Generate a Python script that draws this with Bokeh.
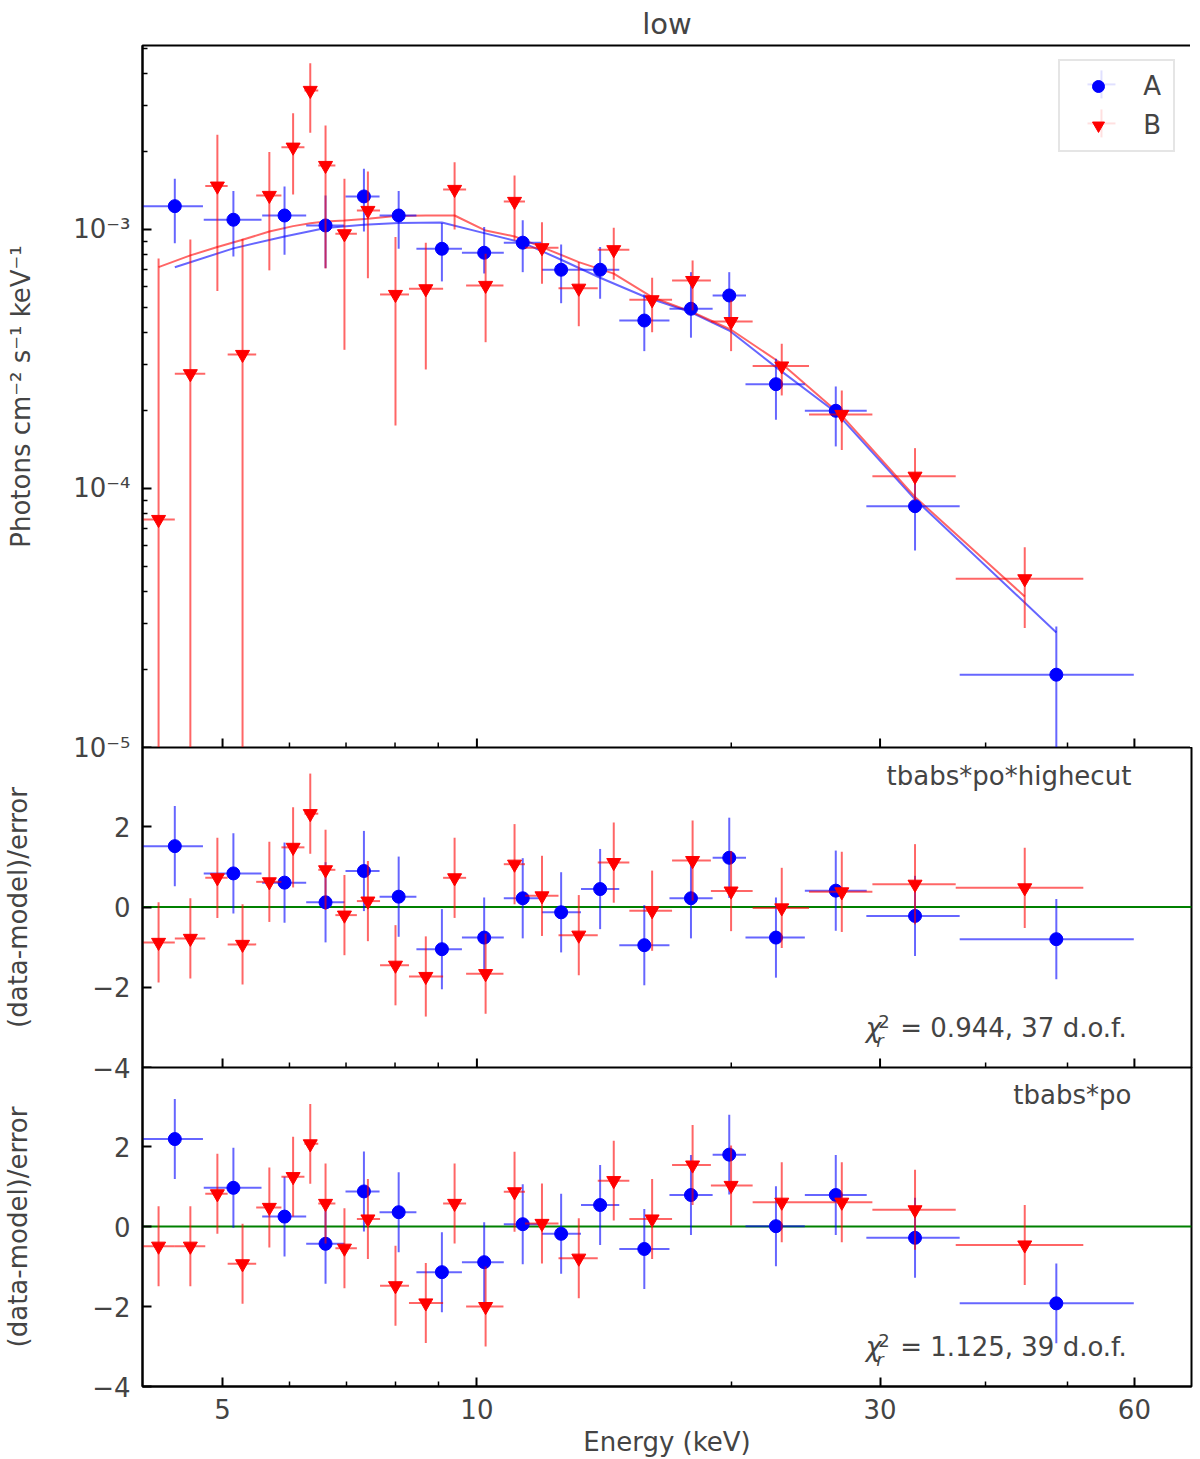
import numpy as np

from bokeh.embed import file_html
from bokeh.layouts import column
from bokeh.models import (ColumnDataSource, CustomJSTickFormatter, FixedTicker,
                          Label, Legend, LegendItem, Range1d, Span)
from bokeh.plotting import figure
from bokeh.resources import INLINE

# ---- data (energy in keV) ----
# instrument A (blue circles)
e_a = [4.39, 5.15, 5.92, 6.62, 7.35, 8.08, 9.09, 10.20, 11.33, 12.58, 13.99,
       15.78, 17.92, 19.89, 22.59, 26.59, 33.0, 48.5]
e_lo_a = [3.95, 4.75, 5.57, 6.28, 6.99, 7.67, 8.48, 9.60, 10.76, 11.94, 13.28,
          14.74, 16.90, 19.01, 20.79, 24.44, 28.9, 37.27]
e_hi_a = [4.74, 5.56, 6.28, 6.97, 7.67, 8.48, 9.60, 10.76, 11.92, 13.28, 14.74,
          16.90, 19.01, 20.82, 24.44, 28.93, 37.27, 59.9]
flux_a = [1.23e-3, 1.09e-3, 1.132e-3, 1.036e-3, 1.341e-3, 1.132e-3, 8.42e-4,
          8.13e-4, 8.89e-4, 6.99e-4, 6.99e-4, 4.45e-4, 4.94e-4, 5.56e-4,
          2.527e-4, 1.995e-4, 8.54e-5, 1.91e-5]
flux_hi_a = [1.57e-3, 1.406e-3, 1.466e-3, 1.353e-3, 1.716e-3, 1.406e-3, 1.058e-3,
             1.021e-3, 1.086e-3, 8.75e-4, 8.55e-4, 5.61e-4, 6.84e-4, 6.84e-4,
             3.168e-4, 2.476e-4, 1.045e-4, 2.93e-5]
flux_lo_a = [8.85e-4, 7.86e-4, 7.98e-4, 7.09e-4, 9.82e-4, 8.42e-4, 6.30e-4,
             6.76e-4, 6.84e-4, 5.19e-4, 5.40e-4, 3.39e-4, 3.82e-4, 4.45e-4,
             1.842e-4, 1.453e-4, 5.76e-5, 5e-6]
model_a = [7.15e-4, 8.45e-4, 9.40e-4, 1.012e-3, 1.043e-3, 1.058e-3, 1.064e-3,
           9.68e-4, 8.89e-4, 7.64e-4, 6.51e-4, 5.51e-4, 4.79e-4, 4.07e-4,
           2.94e-4, 1.97e-4, 9.08e-5, 2.78e-5]
res_cut_a = [1.52, 0.84, 0.61, 0.12, 0.90, 0.26, -1.05, -0.76, 0.22, -0.13, 0.45,
             -0.95, 0.22, 1.23, -0.76, 0.41, -0.22, -0.80]
res_po_a = [2.19, 0.97, 0.25, -0.43, 0.88, 0.36, -1.14, -0.89, 0.06, -0.18, 0.54,
            -0.56, 0.79, 1.80, 0.01, 0.79, -0.28, -1.92]

# instrument B (red triangles)
e_b = [4.20, 4.58, 4.93, 5.28, 5.68, 6.06, 6.35, 6.62, 6.97, 7.43, 8.01, 8.70,
       9.41, 10.24, 11.08, 11.94, 13.20, 14.52, 16.12, 18.00, 19.99, 22.95,
       27.03, 33.0, 44.5]
e_lo_b = [3.95, 4.39, 4.77, 5.07, 5.48, 5.87, 6.25, 6.49, 6.80, 7.21, 7.68, 8.31,
          9.12, 9.71, 10.76, 11.40, 12.49, 13.90, 15.15, 17.02, 18.92, 21.20,
          24.72, 29.38, 36.87]
e_hi_b = [4.39, 4.77, 5.07, 5.48, 5.87, 6.25, 6.49, 6.80, 7.21, 7.68, 8.31, 9.12,
          9.71, 10.75, 11.40, 12.49, 13.90, 15.15, 17.02, 18.92, 21.20, 24.72,
          29.38, 36.87, 52.2]
flux_b = [7.59e-5, 2.773e-4, 1.47e-3, 3.291e-4, 1.353e-3, 2.078e-3, 3.441e-3,
          1.766e-3, 9.62e-4, 1.184e-3, 5.61e-4, 5.90e-4, 1.427e-3, 6.08e-4,
          1.283e-3, 8.50e-4, 5.93e-4, 8.35e-4, 5.35e-4, 6.35e-4, 4.41e-4,
          2.97e-4, 1.931e-4, 1.115e-4, 4.48e-5]
flux_hi_b = [7.73e-4, 9.15e-4, 2.321e-3, 9.21e-4, 1.989e-3, 2.812e-3, 4.386e-3,
             2.521e-3, 1.57e-3, 1.675e-3, 9.34e-4, 8.89e-4, 1.819e-3, 8.06e-4,
             1.616e-3, 1.067e-3, 7.48e-4, 1.015e-3, 6.51e-4, 7.59e-4, 5.32e-4,
             3.62e-4, 2.389e-4, 1.431e-4, 5.93e-5]
flux_lo_b = [5e-6, 5e-6, 5.78e-4, 5e-6, 6.95e-4, 1.365e-3, 2.362e-3, 7.07e-4,
             3.43e-4, 6.48e-4, 1.75e-4, 2.88e-4, 9.99e-4, 3.67e-4, 9.07e-4,
             6.17e-4, 4.23e-4, 6.40e-4, 4.01e-4, 4.87e-4, 3.39e-4, 2.286e-4,
             1.408e-4, 8.99e-5, 2.89e-5]
model_b = [7.15e-4, 7.94e-4, 8.55e-4, 9.12e-4, 9.82e-4, 1.030e-3, 1.057e-3,
           1.074e-3, 1.083e-3, 1.100e-3, 1.126e-3, 1.132e-3, 1.132e-3, 9.90e-4,
           9.40e-4, 8.55e-4, 7.48e-4, 6.75e-4, 5.48e-4, 4.79e-4, 4.10e-4,
           3.03e-4, 1.91e-4, 9.27e-5, 3.83e-5]
res_cut_b = [-0.88, -0.78, 0.73, -0.93, 0.63, 1.49, 2.33, 0.93, -0.20, 0.15, -1.45,
             -1.73, 0.73, -1.66, 1.07, 0.28, -0.70, 1.11, -0.09, 1.16, 0.40, -0.02,
             0.38, 0.57, 0.48]
res_po_b = [-0.49, -0.49, 0.82, -0.93, 0.48, 1.25, 2.07, 0.58, -0.54, 0.19, -1.48,
            -1.91, 0.58, -2.00, 0.87, 0.08, -0.79, 1.15, 0.19, 1.54, 1.03, 0.61,
            0.61, 0.42, -0.46]

x_ticks = [5, 10, 30, 60]
x_minor = [6, 7, 8, 9, 20, 40, 50]
flux_ticks = [1e-5, 1e-4, 1e-3]
res_ticks = [-4, -2, 0, 2]

FONT = "DejaVu Sans"
BLUE = "#0000ff"
RED = "#ff0000"
OVERLAP = 16   # room below a panel so its lowest tick label is not cut


def make_source(e, lo, hi, f, flo, fhi, m, rc, rp):
    rc = np.array(rc)
    rp = np.array(rp)
    return ColumnDataSource(dict(e=e, lo=lo, hi=hi, f=f, flo=flo, fhi=fhi, m=m,
                                 rc=rc, rc0=rc - 1, rc1=rc + 1,
                                 rp=rp, rp0=rp - 1, rp1=rp + 1))


src_a = make_source(e_a, e_lo_a, e_hi_a, flux_a, flux_lo_a, flux_hi_a, model_a,
                    res_cut_a, res_po_a)
src_b = make_source(e_b, e_lo_b, e_hi_b, flux_b, flux_lo_b, flux_hi_b, model_b,
                    res_cut_b, res_po_b)

x_range = Range1d(4.02, 70.1)

sup_fmt = CustomJSTickFormatter(code="""
const sup = {'-': '\u207b', '0': '\u2070', '1': '\u00b9', '2': '\u00b2', '3': '\u00b3',
             '4': '\u2074', '5': '\u2075', '6': '\u2076', '7': '\u2077', '8': '\u2078', '9': '\u2079'};
const e = String(Math.round(Math.log10(tick)));
return '10' + e.split('').map(c => sup[c]).join('');
""")
res_fmt = CustomJSTickFormatter(code="return tick < 0 ? '\u2212' + Math.abs(tick) : String(tick);")
x_fmt = CustomJSTickFormatter(code="return String(Math.round(tick));")


def style_axis(ax):
    ax.axis_line_width = 2
    ax.major_tick_line_width = 2
    ax.minor_tick_line_width = 1.5
    ax.major_tick_in = 9
    ax.major_tick_out = 0
    ax.minor_tick_in = 5
    ax.minor_tick_out = 0
    ax.major_label_text_font = FONT
    ax.major_label_text_font_size = "26px"
    ax.major_label_standoff = 12
    ax.axis_label_text_font = FONT
    ax.axis_label_text_font_size = "26px"
    ax.axis_label_text_font_style = "normal"


def make_fig(h, y_range, y_type, top, bottom, with_xaxis):
    p = figure(frame_width=1049, frame_height=h, x_range=x_range, y_range=y_range,
               x_axis_type="log", y_axis_type=y_type,
               x_axis_location="below" if with_xaxis else None,
               min_border_left=134, min_border_right=2,
               min_border_top=top, min_border_bottom=bottom,
               outline_line_color="black", outline_line_width=2,
               output_backend="svg", toolbar_location=None)
    p.grid.visible = False
    style_axis(p.yaxis[0])
    if with_xaxis:
        style_axis(p.xaxis[0])
        p.xaxis.ticker = FixedTicker(ticks=x_ticks, minor_ticks=x_minor)
        p.xaxis.formatter = x_fmt
    else:
        # inward energy ticks on the shared lower edge (half of each dash is clipped)
        y0 = y_range.start
        p.scatter(x=x_ticks, y=[y0] * len(x_ticks), marker="dash", angle=np.pi / 2,
                  size=18, line_color="black", line_width=2)
        p.scatter(x=x_minor, y=[y0] * len(x_minor), marker="dash", angle=np.pi / 2,
                  size=10, line_color="black", line_width=1.5)
    return p


def draw_points(p, src, y, y0, y1, color, marker, size):
    p.segment(x0="lo", y0=y, x1="hi", y1=y, source=src,
              line_color=color, line_width=2, line_alpha=0.6)
    p.segment(x0="e", y0=y0, x1="e", y1=y1, source=src,
              line_color=color, line_width=2, line_alpha=0.6)
    return p.scatter(x="e", y=y, source=src, marker=marker, size=size,
                     fill_color=color, line_color=color)


# ---- spectrum panel ----
top = make_fig(702, Range1d(1e-5, 5.13e-3), "log", 0, OVERLAP, False)
top.margin = (0, 0, -OVERLAP, 0)
top.title.text = "low"
top.title.align = "center"
top.title.text_font = FONT
top.title.text_font_size = "29px"
top.title.text_font_style = "normal"
top.title.standoff = 9
top.yaxis.ticker = FixedTicker(
    ticks=flux_ticks,
    minor_ticks=[k * 10.0 ** n for n in (-5, -4, -3) for k in range(2, 10)])
top.yaxis.formatter = sup_fmt
top.yaxis.axis_label = "Photons cm\u207b\u00b2 s\u207b\u00b9 keV\u207b\u00b9"
top.yaxis.axis_label_standoff = 34

top.line(x="e", y="m", source=src_a, line_color=BLUE, line_width=2, line_alpha=0.6)
top.line(x="e", y="m", source=src_b, line_color=RED, line_width=2, line_alpha=0.6)
sc_a = draw_points(top, src_a, "f", "flo", "fhi", BLUE, "circle", 13)
sc_b = draw_points(top, src_b, "f", "flo", "fhi", RED, "inverted_triangle", 14)

legend = Legend(items=[LegendItem(label="A", renderers=[sc_a]),
                       LegendItem(label="B", renderers=[sc_b])],
                location="top_right", margin=14, padding=10, spacing=9,
                glyph_width=56, glyph_height=30, label_standoff=17,
                label_text_font=FONT, label_text_font_size="26px",
                border_line_color="#cccccc", border_line_width=2,
                background_fill_alpha=0.8)
top.add_layout(legend)

# error-bar crosses drawn over the legend markers
cx, cx0, cx1 = 54.85, 52.80, 56.98
for color, cy, cy0, cy1 in ((BLUE, 3.63e-3, 3.205e-3, 4.111e-3),
                            (RED, 2.566e-3, 2.266e-3, 2.906e-3)):
    top.segment(x0=[cx0, cx], y0=[cy, cy0], x1=[cx1, cx], y1=[cy, cy1],
                line_color=color, line_width=2, line_alpha=0.6, level="overlay")


# ---- residual panels ----
def residual_panel(h, bottom, col, name, chi_text, with_xaxis):
    p = make_fig(h, Range1d(-4, 3.98), "linear", 0, bottom, with_xaxis)
    p.border_fill_color = None
    p.yaxis.ticker = FixedTicker(ticks=res_ticks, minor_ticks=[])
    p.yaxis.formatter = res_fmt
    p.yaxis.axis_label = "(data-model)/error"
    p.yaxis.axis_label_standoff = 56
    p.add_layout(Span(location=0, dimension="width", line_color="#008000",
                      line_width=2, level="underlay"))
    draw_points(p, src_a, col, col + "0", col + "1", BLUE, "circle", 13)
    draw_points(p, src_b, col, col + "0", col + "1", RED, "inverted_triangle", 14)
    p.add_layout(Label(x=59.5, y=3.28, text=name, text_align="right",
                       text_baseline="middle", text_font=FONT,
                       text_font_size="26px"))
    p.add_layout(Label(x=28.85, y=-3.02, text="\u03c7", text_align="left",
                       text_baseline="middle", text_font=FONT,
                       text_font_size="26px", text_font_style="italic"))
    p.add_layout(Label(x=29.85, y=-2.86, text="2", text_align="left",
                       text_baseline="middle", text_font=FONT,
                       text_font_size="18px"))
    p.add_layout(Label(x=29.7, y=-3.32, text="r", text_align="left",
                       text_baseline="middle", text_font=FONT,
                       text_font_size="18px", text_font_style="italic"))
    p.add_layout(Label(x=31.7, y=-3.02, text=chi_text, text_align="left",
                       text_baseline="middle", text_font=FONT,
                       text_font_size="26px"))
    return p


mid = residual_panel(320, OVERLAP, "rc", "tbabs*po*highecut", "= 0.944, 37 d.o.f.", False)
mid.margin = (0, 0, -OVERLAP, 0)

bot = residual_panel(319, 62, "rp", "tbabs*po", "= 1.125, 39 d.o.f.", True)
bot.xaxis.major_label_standoff = 12
bot.xaxis.axis_label = "Energy (keV)"
bot.xaxis.axis_label_standoff = 5

layout = column(top, mid, bot, spacing=0)
open("out.html", "w").write(file_html(layout, INLINE))
